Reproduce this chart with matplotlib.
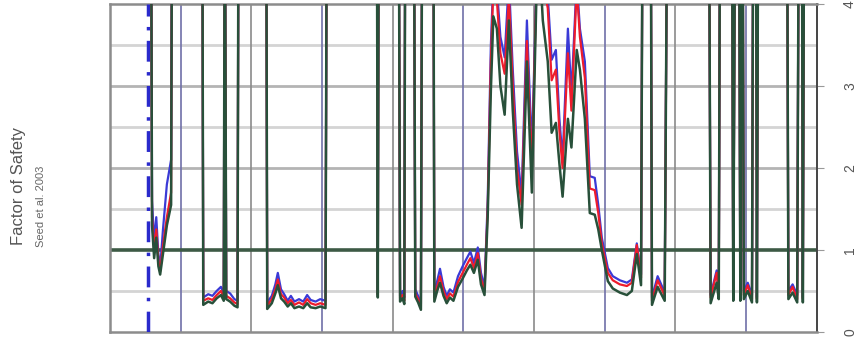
import matplotlib as mpl
mpl.use('Agg')
import matplotlib.pyplot as plt

# depth along the profile (m) and factor of safety for three runs
# values above 4 are non-liquefiable layers (drawn off the top of the chart)
depth = [1.16, 1.19, 1.25, 1.31, 1.37, 1.42, 1.50, 1.61, 1.73, 1.76,
         2.61, 2.64, 2.78, 2.90, 3.02, 3.14, 3.22, 3.25, 3.29, 3.40, 3.52, 3.61, 3.64,
         4.42, 4.45, 4.58, 4.68, 4.75, 4.84, 4.93, 5.03, 5.12, 5.22, 5.35, 5.47,
         5.58, 5.68, 5.82, 5.95, 6.10, 6.14,
         7.55, 7.58, 7.61,
         8.17, 8.21, 8.28, 8.33, 8.36,
         8.60, 8.64, 8.72, 8.80, 8.84,
         9.15, 9.18, 9.26, 9.34, 9.44, 9.53, 9.62, 9.72, 9.85, 9.98, 10.10, 10.20,
         10.30, 10.41, 10.50, 10.60, 10.69, 10.78, 10.85, 10.95, 11.05, 11.17, 11.29,
         11.40, 11.52, 11.65, 11.80, 11.94, 12.08, 12.20, 12.25, 12.39, 12.50, 12.62,
         12.72, 12.81, 12.96, 13.06, 13.21, 13.30, 13.44, 13.58, 13.72, 13.82, 13.92,
         14.09, 14.23, 14.43, 14.63, 14.77, 14.91, 15.03, 15.08,
         15.30, 15.34, 15.50, 15.70, 15.78,
         16.95, 17.00, 17.17, 17.23, 17.27,
         17.60, 17.64, 17.70,
         17.80, 17.84, 17.88,
         17.90, 17.94, 18.05, 18.17, 18.21,
         18.28, 18.31, 18.35,
         19.16, 19.20, 19.32, 19.45, 19.50,
         19.58, 19.61, 19.65]

fs_blue = [6, 1.6, 1.1, 1.4, 0.95, 0.78, 1.25, 1.8, 2.1, 6,
           6, 0.42, 0.46, 0.44, 0.5, 0.55, 0.47, 6, 0.5, 0.47, 0.4, 0.38, 6,
           6, 0.36, 0.44, 0.58, 0.72, 0.52, 0.46, 0.38, 0.44, 0.37, 0.4, 0.37,
           0.45, 0.39, 0.37, 0.4, 0.38, 6,
           6, 0.47, 6,
           6, 0.44, 0.5, 0.42, 6,
           6, 0.52, 0.44, 0.34, 6,
           6, 0.46, 0.62, 0.77, 0.55, 0.44, 0.52, 0.48, 0.68, 0.8, 0.9, 0.98,
           0.84, 1.03, 0.72, 0.55, 1.6, 3.5, 4.3, 4.2, 3.6, 3.35, 4.3,
           3.2, 2.2, 1.67, 3.8, 2.2, 4.4, 4.4, 4.4, 4.1, 3.32, 3.44,
           2.6, 2.1, 3.7, 2.9, 4.3, 3.7, 3.3, 1.9, 1.88, 1.55, 1.15,
           0.78, 0.68, 0.63, 0.6, 0.64, 1.08, 0.7, 6,
           6, 0.42, 0.68, 0.48, 6,
           6, 0.45, 0.75, 0.5, 6,
           6, 0.44, 6,
           6, 0.45, 6,
           6, 0.5, 0.6, 0.45, 6,
           6, 0.42, 6,
           6, 0.5, 0.58, 0.45, 6,
           6, 0.42, 6]

fs_red = [6, 1.4, 1.0, 1.25, 0.88, 0.74, 1.05, 1.4, 1.7, 6,
          6, 0.38, 0.41, 0.39, 0.45, 0.5, 0.42, 6, 0.44, 0.41, 0.36, 0.34, 6,
          6, 0.32, 0.4, 0.52, 0.64, 0.46, 0.42, 0.35, 0.39, 0.33, 0.36, 0.33,
          0.4, 0.35, 0.33, 0.35, 0.33, 6,
          6, 0.45, 6,
          6, 0.41, 0.45, 0.38, 6,
          6, 0.47, 0.4, 0.31, 6,
          6, 0.42, 0.55, 0.68, 0.5, 0.4, 0.47, 0.43, 0.61, 0.72, 0.82, 0.9,
          0.78, 0.96, 0.65, 0.5, 1.5, 3.3, 4.2, 4.05, 3.4, 3.15, 4.1,
          3.0, 2.0, 1.55, 3.55, 1.98, 4.4, 4.4, 4.3, 3.95, 3.07, 3.2,
          2.45, 2.0, 3.4, 2.7, 4.2, 3.6, 3.1, 1.75, 1.73, 1.45, 1.08,
          0.72, 0.63, 0.58, 0.56, 0.6, 1.06, 0.66, 6,
          6, 0.38, 0.63, 0.44, 6,
          6, 0.42, 0.72, 0.45, 6,
          6, 0.42, 6,
          6, 0.42, 6,
          6, 0.45, 0.57, 0.4, 6,
          6, 0.4, 6,
          6, 0.45, 0.55, 0.4, 6,
          6, 0.4, 6]

fs_green = [6, 1.3, 0.9, 1.15, 0.8, 0.7, 0.95, 1.3, 1.55, 6,
            6, 0.33, 0.37, 0.35, 0.41, 0.45, 0.38, 6, 0.4, 0.37, 0.32, 0.3, 6,
            6, 0.28, 0.35, 0.47, 0.57, 0.41, 0.37, 0.31, 0.35, 0.29, 0.31, 0.29,
            0.35, 0.3, 0.29, 0.31, 0.29, 6,
            6, 0.42, 6,
            6, 0.37, 0.41, 0.34, 6,
            6, 0.43, 0.36, 0.27, 6,
            6, 0.37, 0.5, 0.6, 0.44, 0.35, 0.42, 0.38, 0.55, 0.65, 0.75, 0.82,
            0.72, 0.88, 0.58, 0.45, 1.4, 2.95, 3.85, 3.7, 3.0, 2.65, 3.8,
            2.7, 1.8, 1.27, 3.3, 1.7, 4.3, 4.2, 3.8, 3.3, 2.43, 2.55,
            2.05, 1.65, 2.6, 2.25, 3.44, 3.2, 2.6, 1.45, 1.43, 1.25, 1.0,
            0.62, 0.53, 0.48, 0.45, 0.5, 0.95, 0.57, 6,
            6, 0.33, 0.55, 0.38, 6,
            6, 0.35, 0.6, 0.4, 6,
            6, 0.38, 6,
            6, 0.38, 6,
            6, 0.4, 0.5, 0.36, 6,
            6, 0.36, 6,
            6, 0.4, 0.48, 0.36, 6,
            6, 0.36, 6]

water_table = 1.07
fs_ticks = [0, 1, 2, 3, 4]

fig = plt.figure(figsize=(8.66, 3.38), dpi=100)
ax = fig.add_axes([0.127, 0.018, 0.816, 0.970])

# grid: half-unit lines light, integer lines a bit darker, FS=1 line heavy
for v in [0.5, 1.5, 2.5, 3.5]:
    ax.axhline(v, color='#d4d4d4', lw=2.0, zorder=1)
for v in [2, 3]:
    ax.axhline(v, color='#b4b4b4', lw=2.0, zorder=1)
for i, x in enumerate(range(2, 20, 2)):
    ax.axvline(x, color='#7070a8' if i % 2 == 0 else '#8a8a8a', lw=1.2, zorder=1)

ax.axhline(1, color='#3d5a45', lw=2.6, zorder=2)
ax.axvline(water_table, color='#2a2acc', lw=2.5, ls=(0, (6, 3, 1, 3)), zorder=3)

ax.plot(depth, fs_blue, color='#3a3ad6', lw=1.6, zorder=4)
ax.plot(depth, fs_red, color='#ee1c2c', lw=1.6, zorder=5)
ax.plot(depth, fs_green, color='#28503a', lw=1.8, zorder=6)

ax.set_xlim(0, 20)
ax.set_ylim(0, 4)
ax.set_xticks([])
ax.yaxis.tick_right()
ax.set_yticks(fs_ticks)
ax.set_yticklabels([str(t) for t in fs_ticks], rotation=90, va='center', fontsize=10,
                   family='Liberation Sans', color='#555555')
ax.tick_params(axis='y', length=5, color='#999999', pad=14)

for s in ['left', 'bottom', 'top']:
    ax.spines[s].set_color('#8c8c8c')
    ax.spines[s].set_linewidth(1.8)
ax.spines['right'].set_color('#444444')
ax.spines['right'].set_linewidth(1.4)

fig.text(0.021, 0.45, 'Factor of Safety', rotation=90, ha='center', va='center',
         fontsize=12, family='Liberation Sans', color='#555555')
fig.text(0.047, 0.39, 'Seed et al. 2003', rotation=90, ha='center', va='center',
         fontsize=8, family='Liberation Sans', color='#666666')

plt.savefig('out.png', dpi=100)
